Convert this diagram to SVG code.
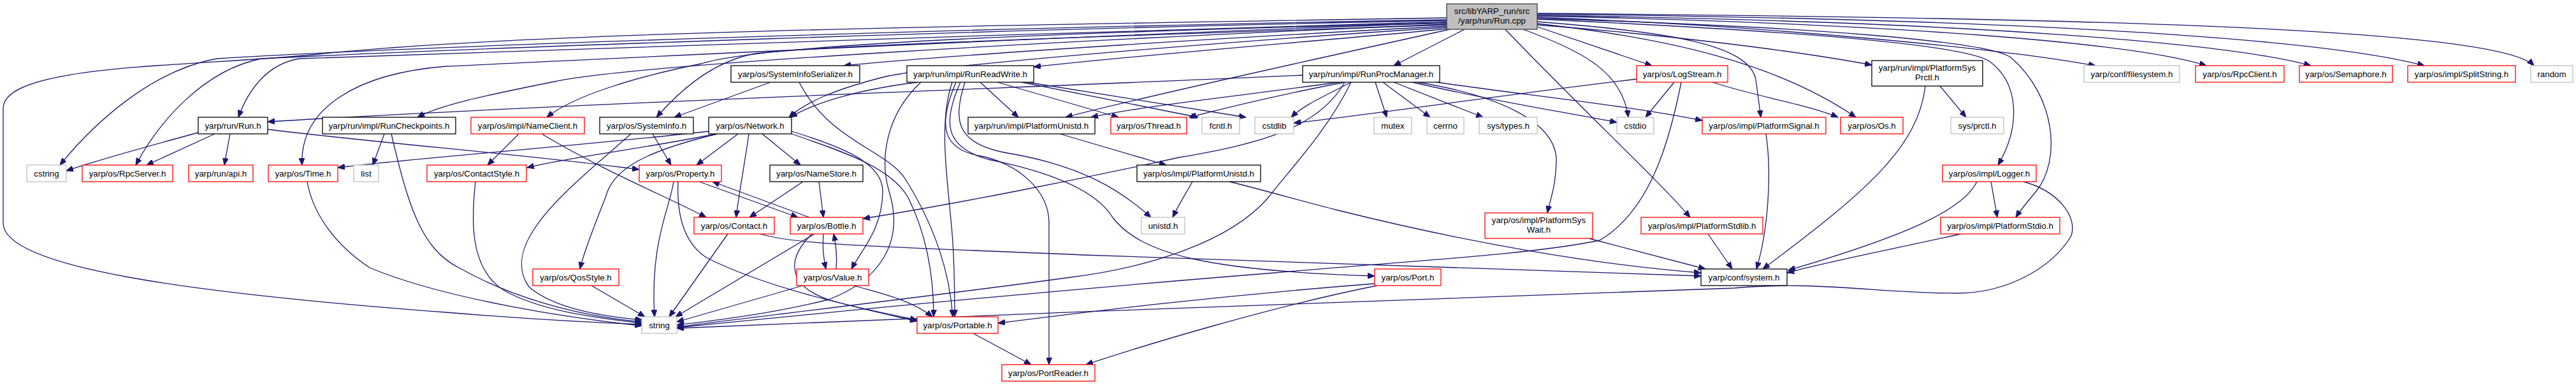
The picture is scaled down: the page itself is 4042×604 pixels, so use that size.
<svg xmlns="http://www.w3.org/2000/svg" width="4042" height="604" viewBox="0 0 4042 604">
<style>
.n rect{fill:#fff;stroke-width:1.3}
.b rect{stroke:#000}
.r rect{stroke:#f00}
.g rect{stroke:#bfbfbf}
text{font-family:"Liberation Sans",Helvetica,Arial,sans-serif;font-size:13.33px;fill:#000;text-anchor:middle}
.e path{fill:none;stroke:#191970;stroke-width:1.3;marker-end:url(#a)}
</style>
<defs>
<marker id="a" markerUnits="userSpaceOnUse" markerWidth="12" markerHeight="9" refX="11" refY="4.5" orient="auto"><path d="M0,0 L11,4.5 L0,9 z" fill="#191970" stroke="#191970" stroke-width="1"/></marker>
</defs>
<rect width="4042" height="604" fill="#fff"/>
<g class="e" id="edges">
<path d="M2270,28 C1500,40 800,52 500,85 C300,105 5,100 5,170 L5,350 C5,420 300,460 700,490 C820,500 930,506 1007,509"/>
<path d="M2270,31 C1600,42 700,70 340,92 C240,110 150,190 94,259"/>
<path d="M2270,32 C1600,45 750,75 410,92 C320,110 250,190 213,259"/>
<path d="M2270,34 C1700,50 800,80 470,92 C420,100 390,140 374,184"/>
<path d="M2270,36 C1700,55 900,95 700,104 C560,115 470,170 474,259"/>
<path d="M2270,38 C1700,62 1000,100 870,128 C760,150 690,165 655,184"/>
<path d="M2270,36 C1700,50 1200,68 1100,100 C1000,120 900,150 858,184"/>
<path d="M2270,39 C1800,55 1250,72 1180,85 C1110,100 1060,150 1030,184"/>
<path d="M2270,41 C2000,55 1500,85 1324,103"/>
<path d="M2270,43 C2000,60 1480,100 1390,120 C1310,140 1265,160 1238,184"/>
<path d="M2272,45 C2100,62 1800,85 1622,105"/>
<path d="M2298,46 L2187,103"/>
<path d="M2275,46 C2100,85 1800,150 1672,184"/>
<path d="M2390,46 C2480,80 2545,110 2555,184"/>
<path d="M2412,42 L2592,103"/>
<path d="M2362,46 C2480,170 2600,280 2652,341"/>
<path d="M2412,34 C2620,50 2745,70 2755,125 L2763,184"/>
<path d="M2412,37 C2620,60 2790,100 2912,184"/>
<path d="M2412,39 C2620,55 2820,80 2937,102"/>
<path d="M2412,30 C2800,48 3070,68 3120,95 C3170,130 3170,200 3135,259"/>
<path d="M2412,29 C2850,42 3120,65 3155,90 C3225,150 3235,250 3195,300 C3180,318 3170,330 3163,341"/>
<path d="M2412,27 C2800,42 3150,78 3288,103"/>
<path d="M2412,25 C3000,38 3350,68 3462,103"/>
<path d="M2412,24 C3100,34 3500,68 3626,103"/>
<path d="M2412,22 C3200,30 3650,62 3804,103"/>
<path d="M2412,21 C3300,28 3920,45 3976,103"/>
<path d="M311,208 C230,230 150,252 104,268"/>
<path d="M337,210 L230,259"/>
<path d="M361,210 L352,259"/>
<path d="M420,203 C600,225 850,245 1003,266"/>
<path d="M603,210 L585,259"/>
<path d="M614,210 C640,320 660,390 720,420 C800,465 900,495 1007,505"/>
<path d="M814,210 L765,259"/>
<path d="M850,210 C950,270 1050,310 1108,341"/>
<path d="M1024,210 L1053,259"/>
<path d="M990,210 C900,290 780,380 830,450 C870,485 950,497 1008,502"/>
<path d="M1209,129 L1058,184"/>
<path d="M1254,129 C1300,220 1390,235 1420,280 C1470,360 1490,430 1495,497"/>
<path d="M1124,210 C1000,235 900,245 827,263"/>
<path d="M1112,206 C900,230 650,248 530,263"/>
<path d="M1158,210 L1093,259"/>
<path d="M1196,210 L1256,259"/>
<path d="M1175,210 C1168,260 1160,300 1155,341"/>
<path d="M1126,210 C1000,240 960,270 950,310 C930,360 915,400 910,422"/>
<path d="M1242,206 C1320,230 1385,255 1385,300 C1385,360 1350,395 1336,422"/>
<path d="M1242,210 C1330,240 1400,265 1425,310 C1460,380 1465,450 1465,497"/>
<path d="M1057,285 C1050,330 1020,380 1027,497"/>
<path d="M1064,285 C1062,330 1070,380 1110,405 C1200,450 1330,480 1439,502"/>
<path d="M1097,285 L1252,341"/>
<path d="M1270,341 L1118,285"/>
<path d="M1260,285 L1176,341"/>
<path d="M1285,285 L1292,341"/>
<path d="M1142,367 L1050,497"/>
<path d="M1193,367 C1250,385 1400,387 1700,400 C2100,415 2400,425 2669,433"/>
<path d="M1278,367 L1060,497"/>
<path d="M1292,367 C1290,390 1292,405 1296,422"/>
<path d="M1312,422 C1314,400 1312,385 1308,367"/>
<path d="M1274,367 C1230,410 1240,450 1300,470 C1350,485 1400,495 1439,504"/>
<path d="M1260,448 L1062,505"/>
<path d="M1340,448 C1380,460 1430,470 1463,497"/>
<path d="M928,448 L1012,497"/>
<path d="M746,285 C740,340 735,420 790,455 C850,490 950,500 1007,507"/>
<path d="M482,285 C490,330 520,380 580,420 C700,470 900,500 1007,511"/>
<path d="M1538,129 L1598,184"/>
<path d="M1565,129 L1755,184"/>
<path d="M1603,129 L1880,184"/>
<path d="M1612,129 L1955,184"/>
<path d="M1440,129 C1350,140 1280,160 1240,184"/>
<path d="M1507,129 C1480,190 1480,230 1550,250 C1650,270 1720,300 1745,340 C1790,400 1900,425 2157,433"/>
<path d="M1514,129 C1495,190 1500,225 1580,240 C1700,260 1760,300 1806,341"/>
<path d="M1500,129 C1470,200 1480,235 1540,245 C1600,258 1646,300 1646,350 L1646,572"/>
<path d="M1494,129 C1470,200 1490,300 1495,380 C1498,430 1498,470 1498,497"/>
<path d="M1445,129 C1390,180 1380,250 1395,300 C1420,380 1380,440 1300,470 C1200,495 1100,505 1062,510"/>
<path d="M2158,129 L2176,184"/>
<path d="M2170,129 L2244,184"/>
<path d="M2187,129 L2327,184"/>
<path d="M2216,129 C2350,160 2450,175 2537,192"/>
<path d="M2254,129 C2400,150 2550,165 2671,189"/>
<path d="M2225,129 C2350,150 2440,190 2442,250 C2442,290 2432,315 2428,334"/>
<path d="M2044,118 C1600,138 900,162 420,191"/>
<path d="M2100,129 C1950,150 1800,165 1712,184"/>
<path d="M2110,129 C2000,150 1920,170 1866,184"/>
<path d="M2120,129 C2080,150 2045,165 2026,184"/>
<path d="M2110,129 C2070,200 1980,225 1850,247 C1700,280 1500,320 1354,343"/>
<path d="M2120,129 C2080,210 2020,270 1990,310 C1930,380 1800,420 1680,435 C1500,460 1200,495 1062,513"/>
<path d="M1663,210 L1830,259"/>
<path d="M1871,285 C1860,305 1850,320 1840,341"/>
<path d="M1929,285 C1990,300 2040,315 2100,330 C2300,380 2500,415 2669,428"/>
<path d="M2627,129 L2582,184"/>
<path d="M2687,129 C2750,150 2840,165 2884,184"/>
<path d="M2568,124 C2350,150 2150,180 2030,193"/>
<path d="M2638,129 C2620,220 2590,330 2510,377 C2400,400 2200,410 2000,428 C1600,460 1200,500 1062,514"/>
<path d="M2771,210 C2780,270 2775,360 2756,422"/>
<path d="M3044,135 L3085,184"/>
<path d="M3021,135 C3010,230 2930,300 2766,422"/>
<path d="M3124,285 L3134,341"/>
<path d="M3102,285 C3080,330 2990,370 2806,424"/>
<path d="M3175,285 C3230,300 3260,340 3250,370 C3220,420 3150,460 3070,460 C2950,460 2850,440 2720,452 C2400,465 1600,490 1062,515"/>
<path d="M3077,367 C2950,395 2870,410 2804,428"/>
<path d="M2680,367 L2718,422"/>
<path d="M2493,374 L2676,422"/>
<path d="M2157,445 C1900,465 1700,490 1566,507"/>
<path d="M2161,448 C2000,480 1800,540 1704,572"/>
<path d="M1527,523 L1618,572"/>
</g>
<g id="root" class="n"><rect x="2270" y="6" width="142" height="40" fill="#bfbfbf" style="fill:#bfbfbf;stroke:#404040"/><text x="2341" y="22">src/libYARP_run/src</text><text x="2341" y="37">/yarp/run/Run.cpp</text></g>
<g id="sis" class="n b"><rect x="1147" y="103" width="202" height="26"/><text x="1248" y="120.5">yarp/os/SystemInfoSerializer.h</text></g>
<g id="rrw" class="n b"><rect x="1423" y="103" width="199" height="26"/><text x="1522.5" y="120.5">yarp/run/impl/RunReadWrite.h</text></g>
<g id="rpm" class="n b"><rect x="2044" y="103" width="215" height="26"/><text x="2151.5" y="120.5">yarp/run/impl/RunProcManager.h</text></g>
<g id="ls" class="n r"><rect x="2568" y="103" width="143" height="26"/><text x="2639.5" y="120.5">yarp/os/LogStream.h</text></g>
<g id="psp" class="n b"><rect x="2937" y="95" width="174" height="40"/><text x="3024" y="111">yarp/run/impl/PlatformSys</text><text x="3024" y="126">Prctl.h</text></g>
<g id="fs" class="n g"><rect x="3270" y="103" width="150" height="26"/><text x="3345" y="120.5">yarp/conf/filesystem.h</text></g>
<g id="rc" class="n r"><rect x="3445" y="103" width="139" height="26"/><text x="3514.5" y="120.5">yarp/os/RpcClient.h</text></g>
<g id="sem" class="n r"><rect x="3608" y="103" width="146" height="26"/><text x="3681" y="120.5">yarp/os/Semaphore.h</text></g>
<g id="ss" class="n r"><rect x="3778" y="103" width="169" height="26"/><text x="3862.5" y="120.5">yarp/os/impl/SplitString.h</text></g>
<g id="rnd" class="n g"><rect x="3971" y="103" width="66" height="26"/><text x="4004" y="120.5">random</text></g>
<g id="rh" class="n b"><rect x="311" y="184" width="109" height="26"/><text x="365.5" y="201.5">yarp/run/Run.h</text></g>
<g id="rcp" class="n b"><rect x="506" y="184" width="209" height="26"/><text x="610.5" y="201.5">yarp/run/impl/RunCheckpoints.h</text></g>
<g id="nc" class="n r"><rect x="739" y="184" width="178" height="26"/><text x="828" y="201.5">yarp/os/impl/NameClient.h</text></g>
<g id="si" class="n b"><rect x="941" y="184" width="147" height="26"/><text x="1014.5" y="201.5">yarp/os/SystemInfo.h</text></g>
<g id="net" class="n b"><rect x="1112" y="184" width="130" height="26"/><text x="1177" y="201.5">yarp/os/Network.h</text></g>
<g id="rpu" class="n b"><rect x="1519" y="184" width="199" height="26"/><text x="1618.5" y="201.5">yarp/run/impl/PlatformUnistd.h</text></g>
<g id="th" class="n r"><rect x="1743" y="184" width="119" height="26"/><text x="1802.5" y="201.5">yarp/os/Thread.h</text></g>
<g id="fcntl" class="n g"><rect x="1886" y="184" width="59" height="26"/><text x="1915.5" y="201.5">fcntl.h</text></g>
<g id="cstdlib" class="n g"><rect x="1969" y="184" width="61" height="26"/><text x="1999.5" y="201.5">cstdlib</text></g>
<g id="mutex" class="n g"><rect x="2156" y="184" width="59" height="26"/><text x="2185.5" y="201.5">mutex</text></g>
<g id="cerrno" class="n g"><rect x="2239" y="184" width="58" height="26"/><text x="2268" y="201.5">cerrno</text></g>
<g id="systypes" class="n g"><rect x="2321" y="184" width="91" height="26"/><text x="2366.5" y="201.5">sys/types.h</text></g>
<g id="cstdio" class="n g"><rect x="2537" y="184" width="58" height="26"/><text x="2566" y="201.5">cstdio</text></g>
<g id="psig" class="n r"><rect x="2671" y="184" width="194" height="26"/><text x="2768" y="201.5">yarp/os/impl/PlatformSignal.h</text></g>
<g id="os" class="n r"><rect x="2888" y="184" width="98" height="26"/><text x="2937" y="201.5">yarp/os/Os.h</text></g>
<g id="prctl" class="n g"><rect x="3061" y="184" width="83" height="26"/><text x="3102.5" y="201.5">sys/prctl.h</text></g>
<g id="cstring" class="n g"><rect x="42" y="259" width="62" height="26"/><text x="73" y="276.5">cstring</text></g>
<g id="rpcs" class="n r"><rect x="129" y="259" width="142" height="26"/><text x="200" y="276.5">yarp/os/RpcServer.h</text></g>
<g id="api" class="n r"><rect x="296" y="259" width="101" height="26"/><text x="346.5" y="276.5">yarp/run/api.h</text></g>
<g id="time" class="n r"><rect x="421" y="259" width="109" height="26"/><text x="475.5" y="276.5">yarp/os/Time.h</text></g>
<g id="list" class="n g"><rect x="555" y="259" width="39" height="26"/><text x="574.5" y="276.5">list</text></g>
<g id="cs" class="n r"><rect x="670" y="259" width="156" height="26"/><text x="748" y="276.5">yarp/os/ContactStyle.h</text></g>
<g id="prop" class="n r"><rect x="1003" y="259" width="129" height="26"/><text x="1067.5" y="276.5">yarp/os/Property.h</text></g>
<g id="ns" class="n b"><rect x="1208" y="259" width="146" height="26"/><text x="1281" y="276.5">yarp/os/NameStore.h</text></g>
<g id="psu" class="n b"><rect x="1784" y="259" width="194" height="26"/><text x="1881" y="276.5">yarp/os/impl/PlatformUnistd.h</text></g>
<g id="logger" class="n r"><rect x="3048" y="259" width="147" height="26"/><text x="3121.5" y="276.5">yarp/os/impl/Logger.h</text></g>
<g id="contact" class="n r"><rect x="1089" y="341" width="126" height="26"/><text x="1152" y="358.5">yarp/os/Contact.h</text></g>
<g id="bottle" class="n r"><rect x="1240" y="341" width="114" height="26"/><text x="1297" y="358.5">yarp/os/Bottle.h</text></g>
<g id="unistd" class="n g"><rect x="1791" y="341" width="68" height="26"/><text x="1825" y="358.5">unistd.h</text></g>
<g id="psw" class="n r"><rect x="2330" y="334" width="169" height="40"/><text x="2414.5" y="350">yarp/os/impl/PlatformSys</text><text x="2414.5" y="365">Wait.h</text></g>
<g id="pstdlib" class="n r"><rect x="2575" y="341" width="191" height="26"/><text x="2670.5" y="358.5">yarp/os/impl/PlatformStdlib.h</text></g>
<g id="pstdio" class="n r"><rect x="3045" y="341" width="187" height="26"/><text x="3138.5" y="358.5">yarp/os/impl/PlatformStdio.h</text></g>
<g id="qos" class="n r"><rect x="836" y="422" width="135" height="26"/><text x="903.5" y="439.5">yarp/os/QosStyle.h</text></g>
<g id="value" class="n r"><rect x="1250" y="422" width="113" height="26"/><text x="1306.5" y="439.5">yarp/os/Value.h</text></g>
<g id="port" class="n r"><rect x="2157" y="422" width="104" height="26"/><text x="2209" y="439.5">yarp/os/Port.h</text></g>
<g id="system" class="n b"><rect x="2669" y="422" width="135" height="26"/><text x="2736.5" y="439.5">yarp/conf/system.h</text></g>
<g id="string" class="n g"><rect x="1007" y="497" width="55" height="26"/><text x="1034.5" y="514.5">string</text></g>
<g id="portable" class="n r"><rect x="1439" y="497" width="127" height="26"/><text x="1502.5" y="514.5">yarp/os/Portable.h</text></g>
<g id="portreader" class="n r"><rect x="1572" y="572" width="146" height="26"/><text x="1645" y="589.5">yarp/os/PortReader.h</text></g>
</svg>
